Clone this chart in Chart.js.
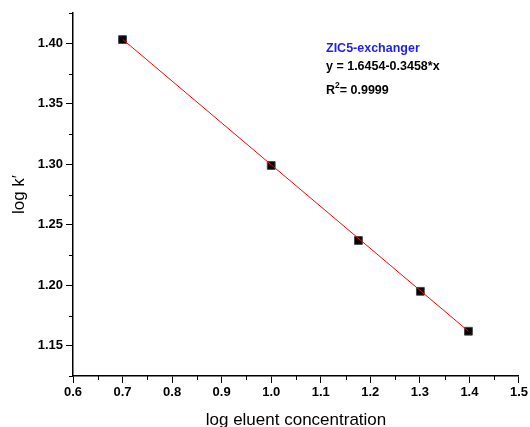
<!DOCTYPE html>
<html>
<head>
<meta charset="utf-8">
<script src="https://cdn.jsdelivr.net/npm/chart.js@4"></script>
<style>
  html, body { margin: 0; padding: 0; background: #fff; }
  #wrap { width: 530px; height: 427px; position: relative; }
</style>
</head>
<body>
<div id="wrap"><canvas id="logChart" width="530" height="427"></canvas></div>
<script>
// data
const logConc = [0.7, 1.0, 1.176, 1.301, 1.398];
const logK = [1.403, 1.299, 1.237, 1.195, 1.162];
// fitted line, end points
const fitX = [0.7, 1.398];
const fitY = [1.4033, 1.1620];

const xMin = 0.6, xMax = 1.5;
const xTicks = [0.6, 0.7, 0.8, 0.9, 1.0, 1.1, 1.2, 1.3, 1.4, 1.5];
const xMinorTicks = [0.65, 0.75, 0.85, 0.95, 1.05, 1.15, 1.25, 1.35, 1.45];
const yMin = 1.125, yMax = 1.425;
const yTicks = [1.15, 1.20, 1.25, 1.30, 1.35, 1.40];
const yMinorTicks = [1.125, 1.175, 1.225, 1.275, 1.325, 1.375, 1.425];

const legendLines = ["ZIC5-exchanger", "y = 1.6454-0.3458*x", "0.9999"];

const fontFam = 'Arial, "Liberation Sans", sans-serif';

// minor ticks (shorter) + text box in the upper right
const extras = {
    id: 'extras',
    afterDraw(chart) {
        const ctx = chart.ctx;
        const xs = chart.scales.x;
        const ys = chart.scales.y;
        ctx.save();
        ctx.strokeStyle = '#000';
        ctx.lineWidth = 1;
        ctx.beginPath();
        for (let v of xMinorTicks) {
            let px = Math.round(xs.getPixelForValue(v)) + 0.5;
            ctx.moveTo(px, xs.top);
            ctx.lineTo(px, xs.top + 4);
        }
        for (let v of yMinorTicks) {
            let py = Math.round(ys.getPixelForValue(v)) + 0.5;
            ctx.moveTo(ys.right, py);
            ctx.lineTo(ys.right - 4, py);
        }
        ctx.stroke();

        const big = 'bold 12.5px ' + fontFam;
        ctx.textBaseline = 'middle';
        ctx.textAlign = 'left';
        ctx.font = big;
        ctx.fillStyle = '#1f1fe6';
        ctx.fillText(legendLines[0], 326, 49);
        ctx.fillStyle = '#000';
        ctx.fillText(legendLines[1], 326, 67);
        ctx.fillText("R", 326, 91);
        let w = ctx.measureText("R").width;
        ctx.font = 'bold 8.5px ' + fontFam;
        ctx.fillText("2", 326 + w, 86);
        let w2 = ctx.measureText("2").width;
        ctx.font = big;
        ctx.fillText("= " + legendLines[2], 326 + w + w2, 91);
        ctx.restore();
    }
};

new Chart(document.getElementById("logChart"), {
    type: 'scatter',
    data: {
        datasets: [
            {
                label: 'fit',
                data: fitX.map((x, i) => ({ x: x, y: fitY[i] })),
                showLine: true,
                borderColor: '#ff0000',
                borderWidth: 1,
                pointRadius: 0,
                order: 0
            },
            {
                label: 'log k',
                data: logConc.map((x, i) => ({ x: x, y: logK[i] })),
                pointStyle: 'rect',
                pointRadius: 5.5,
                backgroundColor: '#000',
                borderColor: '#444',
                borderWidth: 1,
                order: 1
            }
        ]
    },
    options: {
        responsive: false,
        animation: false,
        layout: { padding: { top: 13, right: 10, left: 0, bottom: 0 } },
        plugins: {
            legend: { display: false },
            tooltip: { enabled: false }
        },
        scales: {
            x: {
                type: 'linear',
                min: xMin,
                max: xMax,
                afterFit: (s) => { s.height = 51; },
                afterBuildTicks: (s) => { s.ticks = xTicks.map(v => ({ value: v })); },
                border: { color: '#000', width: 1.5 },
                grid: { drawOnChartArea: false, tickLength: 7, tickColor: '#000', tickWidth: 1 },
                ticks: {
                    padding: 2,
                    color: '#000',
                    font: { family: fontFam, size: 13, weight: 'bold' },
                    maxRotation: 0,
                    autoSkip: false,
                    callback: (v) => Number(v).toFixed(1)
                },
                title: {
                    display: true,
                    text: 'log eluent concentration',
                    color: '#000',
                    font: { family: fontFam, size: 17 },
                    padding: { top: 0, bottom: -4 }
                }
            },
            y: {
                type: 'linear',
                min: yMin,
                max: yMax,
                afterFit: (s) => { s.width = 73; },
                afterBuildTicks: (s) => { s.ticks = yTicks.map(v => ({ value: v })); },
                border: { color: '#000', width: 1.5 },
                grid: { drawOnChartArea: false, tickLength: 7, tickColor: '#000', tickWidth: 1 },
                ticks: {
                    padding: 3,
                    color: '#000',
                    font: { family: fontFam, size: 13, weight: 'bold' },
                    autoSkip: false,
                    callback: (v) => Number(v).toFixed(2)
                },
                title: {
                    display: true,
                    text: 'log k\u2032',
                    color: '#000',
                    font: { family: fontFam, size: 17 },
                    padding: { top: 9, bottom: 0 }
                }
            }
        }
    },
    plugins: [extras]
});
</script>
</body>
</html>
